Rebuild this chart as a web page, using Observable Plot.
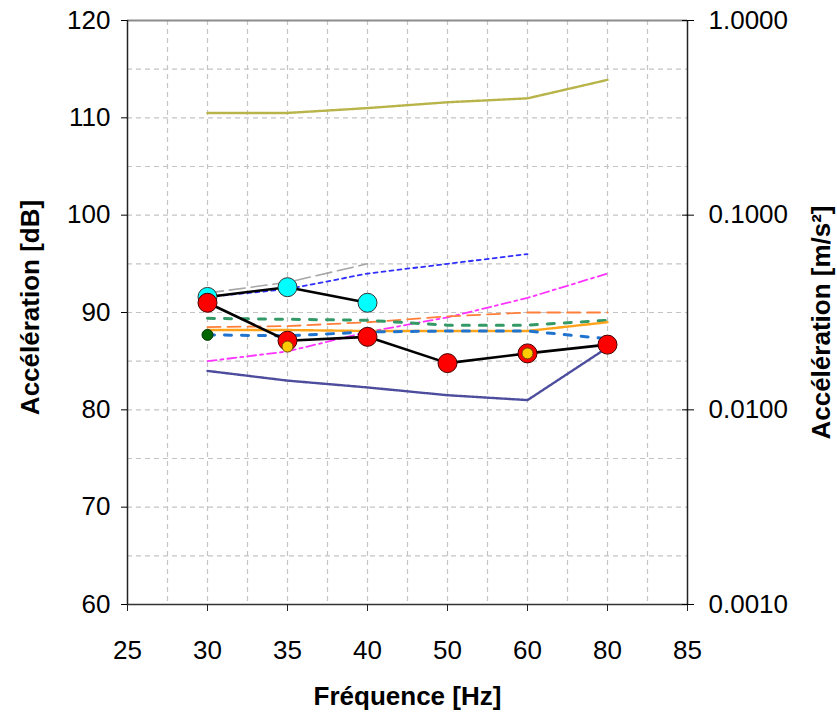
<!DOCTYPE html>
<html>
<head>
<meta charset="utf-8">
<script src="https://cdn.jsdelivr.net/npm/d3@7"></script>
<script src="https://cdn.jsdelivr.net/npm/@observablehq/plot@0.6"></script>
<style>
  html, body { margin: 0; padding: 0; background: #fff; }
</style>
</head>
<body>
<div id="chart"></div>
<script>
// ---- data ----
const xLabels = ["25", "30", "35", "40", "50", "60", "80", "85"];
const freqs = [30, 35, 40, 50, 60, 80];
const oliveLine = [110.5, 110.5, 111.0, 111.6, 112.0, 113.9];
const navyLine = [84.0, 83.0, 82.3, 81.5, 81.0, 86.4];
const magentaLine = [85.0, 86.0, 88.0, 89.5, 91.5, 94.0];
const orangeDashLine = [88.5, 88.6, 89.0, 89.6, 90.0, 90.0];
const amberLine = [88.2, 88.2, 88.1, 88.1, 88.1, 89.0];
const greenDashLine = [89.4, 89.3, 89.2, 88.7, 88.7, 89.2];
const blueDashLine = [87.7, 87.6, 88.0, 88.1, 88.1, 87.3];
const grayFreqs = [30, 35, 40];
const grayLine = [92.0, 93.1, 95.0];
const blueDotFreqs = [30, 35, 40, 50, 60];
const blueDotLine = [91.6, 92.4, 94.0, 95.0, 96.0];
const redPoints = [91.0, 87.1, 87.5, 84.8, 85.8, 86.7];
const cyanFreqs = [30, 35, 40];
const cyanPoints = [91.6, 92.6, 91.0];
const goldFreqs = [35, 60];
const goldPoints = [86.5, 85.8];
const greenFreqs = [30];
const greenPoints = [87.7];
const leftTicks = [60, 70, 80, 90, 100, 110, 120];
const rightTicks = [60, 80, 100, 120]; // dB positions of 0.001 … 1 m/s²
const gridDb = [65, 70, 75, 80, 85, 90, 95, 100, 105, 110, 115];

// ---- helpers ----
const xi = f => xLabels.indexOf(String(f));
const rows = (fs, vs) => fs.map((f, i) => ({x: xi(f), y: vs[i]}));
const dbToMs2 = d => Math.pow(10, (d - 120) / 20);
const font = "'Liberation Sans', Arial, sans-serif";

const line = (data, o) => Plot.line(data, {x: "x", y: "y", fill: "none", strokeLinejoin: "round", ...o});

const chart = Plot.plot({
  width: 837,
  height: 713,
  marginLeft: 127,
  marginRight: 150,
  marginTop: 20,
  marginBottom: 109,
  style: {fontFamily: font, background: "#fff", color: "#000"},
  x: {domain: [0, xLabels.length - 1], axis: null},
  y: {domain: [60, 120], axis: null},
  marks: [
    // grid
    Plot.ruleX(d3.range(0.5, xLabels.length - 1, 0.5), {stroke: "#c4c4c4", strokeWidth: 1.2, strokeDasharray: "5,4"}),
    Plot.ruleY(gridDb, {stroke: "#c4c4c4", strokeWidth: 1.2, strokeDasharray: "5,4"}),
    // frame
    Plot.ruleY([120], {stroke: "#8c8c8c", strokeWidth: 2}),
    Plot.ruleY([60], {stroke: "#333", strokeWidth: 1.5}),
    Plot.ruleX([0], {stroke: "#222", strokeWidth: 1.5}),
    Plot.ruleX([xLabels.length - 1], {stroke: "#222", strokeWidth: 1.5}),
    // series lines
    line(rows(freqs, oliveLine), {stroke: "#b8b44a", strokeWidth: 2.4, strokeDasharray: "1.5,1"}),
    line(rows(freqs, navyLine), {stroke: "#4d4d9e", strokeWidth: 2.4, strokeDasharray: "1.5,1"}),
    line(rows(grayFreqs, grayLine), {stroke: "#a6a6a6", strokeWidth: 1.6, strokeDasharray: "16,6"}),
    line(rows(blueDotFreqs, blueDotLine), {stroke: "#2f2fff", strokeWidth: 1.8, strokeDasharray: "4,4"}),
    line(rows(freqs, magentaLine), {stroke: "#ff33ff", strokeWidth: 1.8, strokeDasharray: "9,4,3,4"}),
    line(rows(freqs, orangeDashLine), {stroke: "#ff7f3a", strokeWidth: 1.8, strokeDasharray: "13,7"}),
    line(rows(freqs, greenDashLine), {stroke: "#339966", strokeWidth: 3, strokeDasharray: "7,10"}),
    line(rows(freqs, amberLine), {stroke: "#ffa31a", strokeWidth: 2.4, strokeDasharray: "1.5,1"}),
    line(rows(freqs, blueDashLine), {stroke: "#1f74d0", strokeWidth: 3, strokeDasharray: "7,10"}),
    // black connecting lines
    line(rows(cyanFreqs, cyanPoints), {stroke: "#000", strokeWidth: 2.6}),
    line(rows(freqs, redPoints), {stroke: "#000", strokeWidth: 2.6}),
    // points
    Plot.dot(rows(cyanFreqs, cyanPoints), {x: "x", y: "y", r: 9.5, fill: "#00ffff", stroke: "#333", strokeWidth: 1}),
    Plot.dot(rows(freqs, redPoints), {x: "x", y: "y", r: 9.5, fill: "#ff0000", stroke: "#400", strokeWidth: 1}),
    Plot.dot(rows(greenFreqs, greenPoints), {x: "x", y: "y", r: 5.5, fill: "#006600", stroke: "#003300", strokeWidth: 1}),
    Plot.dot(rows(goldFreqs, goldPoints), {x: "x", y: "y", r: 5.5, fill: "#ffcc00", stroke: "#6b4000", strokeWidth: 1}),
    // axes
    Plot.axisX({ticks: d3.range(xLabels.length), tickFormat: i => xLabels[i], tickSize: 7, tickPadding: 29, fontSize: 26, label: null, stroke: "#222"}),
    Plot.axisY({anchor: "left", ticks: leftTicks, tickSize: 6, tickPadding: 11, fontSize: 26, label: null, tickFormat: d => String(d)}),
    Plot.axisY({anchor: "right", ticks: rightTicks, tickSize: 6, tickPadding: 15, fontSize: 26, label: null, tickFormat: d => dbToMs2(d).toFixed(4)}),
    Plot.axisY({anchor: "right", ticks: rightTicks, tickSize: -6, label: null, tickFormat: () => ""}),
    // titles
    Plot.text(["Fréquence [Hz]"], {frameAnchor: "bottom", dy: 100, lineAnchor: "bottom", textAnchor: "middle", fontSize: 26, fontWeight: "bold", text: d => d}),
    Plot.text(["Accélération [dB]"], {frameAnchor: "left", dx: -97, dy: -5, rotate: -90, lineAnchor: "middle", textAnchor: "middle", fontSize: 26, fontWeight: "bold", text: d => d}),
    Plot.text(["Accélération [m/s²]"], {frameAnchor: "right", dx: 134, dy: 10, rotate: -90, lineAnchor: "middle", textAnchor: "middle", fontSize: 26, fontWeight: "bold", text: d => d})
  ]
});
document.getElementById("chart").appendChild(chart);
</script>
</body>
</html>
